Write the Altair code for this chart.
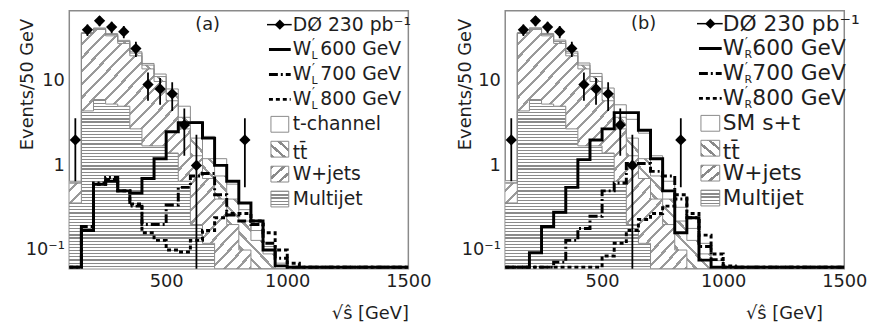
import altair as alt
import pandas as pd

# ---------------- data ----------------
YMIN, YMAX = 0.06, 67
XMIN, XMAX = 100, 1500

bg_edges = list(range(100, 1001, 50))      # lower bin edges, 50 GeV bins
sig_edges = list(range(100, 1451, 50))

# backgrounds (stack: multijet, W+jets, ttbar, single top)
multijet = [0.36, 4.4, 6.0, 5.3, 5.0, 2.7, 1.7, 1.7, 1.4, 0.65, 0.2, 0.12, 0, 0, 0, 0, 0, 0, 0]
wjets = [0.26, 31.8, 34.4, 28.6, 22.6, 17.0, 12.1, 8.1, 4.4, 2.05, 1.1, 0.58, 0.4, 0.2, 0.1, 0.06, 0.04, 0.03, 0]
ttbar = [0, 0.3, 0.8, 1.2, 1.5, 1.5, 1.5, 1.4, 1.2, 1.0, 0.8, 0.5, 0.35, 0.2, 0.12, 0.07, 0.05, 0.03, 0]
tchannel = [0.03, 0.5, 0.8, 0.9, 0.9, 0.8, 0.7, 0.8, 1.0, 1.3, 1.2, 1.0, 0.45, 0.2, 0.08, 0.04, 0.02, 0.01, 0]
sm_st = [0.04, 0.6, 1.0, 1.1, 1.1, 1.0, 0.9, 1.0, 1.2, 1.5, 1.4, 1.2, 0.55, 0.25, 0.1, 0.05, 0.03, 0.015, 0]

# W' signals, panel (a) left-handed, panel (b) right-handed
wl600 = [0, 0.17, 0.6, 0.65, 0.5, 0.47, 0.7, 1.2, 2.5, 3.2, 3.2, 2.1, 1.0, 0.65, 0.36, 0.22, 0.1, 0.065] + [0] * 10
wl700 = [0, 0.19, 0.62, 0.72, 0.5, 0.33, 0.2, 0.2, 0.34, 0.55, 0.75, 0.8, 0.45, 0.26, 0.22, 0.2, 0.12, 0.08] + [0] * 10
wl800 = [0, 0.17, 0.6, 0.68, 0.5, 0.35, 0.16, 0.13, 0.1, 0.095, 0.13, 0.17, 0.24, 0.27, 0.27, 0.22, 0.16, 0.1, 0.07] + [0] * 9
wr600 = [0, 0, 0.093, 0.19, 0.28, 0.55, 1.17, 2.0, 2.7, 4.2, 4.2, 2.6, 1.2, 0.5, 0.16, 0.24, 0.076] + [0] * 11
wr700 = [0, 0, 0, 0, 0.072, 0.13, 0.18, 0.25, 0.5, 0.62, 1.05, 1.05, 0.85, 0.75, 0.4, 0.24, 0.11, 0.077] + [0] * 10
wr800 = [0, 0, 0, 0, 0, 0, 0, 0, 0.085, 0.12, 0.17, 0.23, 0.27, 0.33, 0.45, 0.27, 0.15, 0.09, 0.065] + [0] * 9

# D0 data
data_x = [125, 175, 225, 275, 325, 375, 425, 475, 525, 575, 625, 825]
data_y = [2, 40, 51, 43, 38, 24, 9, 8, 7, 3, 1, 2]
data_lo = [0.65, 33.7, 43.9, 36.4, 31.8, 19.1, 5.8, 5.2, 4.4, 1.3, 0.01, 0.55]
data_hi = [3.6, 46.3, 58.1, 49.6, 44.2, 28.9, 12.5, 10.8, 9.6, 4.7, 2.3, 3.6]

legend_a = ["DØ 230 pb⁻¹", "600 GeV", "700 GeV", "800 GeV", "t-channel", "tt̄", "W+jets", "Multijet"]
legend_b = ["DØ 230 pb⁻¹", "600 GeV", "700 GeV", "800 GeV", "SM s+t", "tt̄", "W+jets", "Multijet"]

# ---------------- style ----------------
FONT = "DejaVu Sans"
FS = 18
TXT = "#1e1e1e"
HATCH = "#8a8a8a"
HATCH_LIGHT = "#9a9a9a"
W, H = 343, 261
SIG_FLOOR = 0.0625


def stripes(n, x1, y1, x2, y2, frac=0.38, color=HATCH, bg="white"):
    stops = []
    for i in range(n):
        a, b, c = i / n, (i + frac) / n, (i + 1) / n
        stops += [alt.GradientStop(offset=a, color=color),
                  alt.GradientStop(offset=b, color=color),
                  alt.GradientStop(offset=b, color=bg),
                  alt.GradientStop(offset=c, color=bg)]
    return alt.Gradient(gradient="linear", stops=stops, x1=x1, y1=y1, x2=x2, y2=y2)


FILL_MJ = stripes(54, 0, 0, 0, 1, frac=0.38)
FILL_WJ = stripes(36, 0, 0, 1, 1, frac=0.24, color=HATCH_LIGHT)
FILL_TT = stripes(34, 0, 1, 1, 0, frac=0.24, color=HATCH_LIGHT)
BOX_MJ = stripes(5, 0, 0, 0, 1, frac=0.4)
BOX_WJ = stripes(3, 0, 0, 1, 1, frac=0.3)
BOX_TT = stripes(3, 0, 1, 1, 0, frac=0.3)

xscale = alt.Scale(domain=[XMIN, XMAX], nice=False, zero=False)
yscale = alt.Scale(type="log", domain=[YMIN, YMAX], nice=False)


def xaxis(title_x):
    return alt.Axis(values=[500, 1000, 1500], format="d", title="√ŝ [GeV]",
                    titleX=title_x, titleY=45, titleAlign="right", titleBaseline="middle",
                    titleFont=FONT, titleFontSize=FS, titleFontWeight="normal", titleColor=TXT,
                    labelFont=FONT, labelFontSize=FS, labelColor=TXT, labelFlush=False,
                    labelPadding=4, ticks=False, domain=False, grid=False)


def yaxis(title_x):
    return alt.Axis(values=[0.1, 1, 10],
                    labelExpr="datum.value < 0.5 ? '10⁻¹' : (datum.value < 5 ? '1' : '10')",
                    title="Events/50 GeV", titleX=title_x, titleY=74, titleAngle=-90,
                    titleAlign="center", titleBaseline="middle",
                    titleFont=FONT, titleFontSize=FS, titleFontWeight="normal", titleColor=TXT,
                    labelFont=FONT, labelFontSize=FS, labelColor=TXT, labelFlush=False,
                    labelPadding=5, ticks=False, domain=False, grid=False)


def step_frame(edges, lo, hi):
    xs = list(edges) + [edges[-1] + 50]
    lo = list(lo) + [lo[-1]]
    hi = list(hi) + [hi[-1]]
    return pd.DataFrame({"x": xs, "lo": lo, "hi": hi})


def one():
    return alt.Chart(pd.DataFrame({"k": [0]}))


def panel(tag, comps, sigs, labels, sub, txt_x, sym0, sym1, row0, ytx, xtx, lfs, rest_dx):
    XA = xaxis(xtx)
    YA = yaxis(ytx)

    def X(f):
        return alt.X(f, scale=xscale, axis=XA, title="√ŝ [GeV]")

    def Y(f):
        return alt.Y(f, scale=yscale, axis=YA, title="Events/50 GeV")

    layers = []
    fills = [FILL_MJ, FILL_WJ, FILL_TT, "white"]
    cum = [0.0] * len(bg_edges)
    outlines = []
    for vals, fill in zip(comps, fills):
        lo = [max(c, YMIN) for c in cum]
        cum = [c + v for c, v in zip(cum, vals)]
        hi = [max(c, YMIN) for c in cum]
        df = step_frame(bg_edges, lo, hi)
        layers.append(alt.Chart(df).mark_area(interpolate="step-after", fill=fill,
                                              strokeWidth=0, clip=True).encode(
            x=X("x:Q"), y=Y("hi:Q"), y2="lo:Q"))
        outlines.append(alt.Chart(df).mark_line(interpolate="step-after", color=HATCH,
                                                strokeWidth=1, clip=True).encode(
            x=X("x:Q"), y=Y("hi:Q")))
    layers += outlines

    dashes = [[1, 0], [9, 3, 2, 3], [4, 3]]
    for vals, dash in zip(sigs, dashes):
        v = [max(s, SIG_FLOOR) for s in vals]
        df = step_frame(sig_edges, v, v)
        layers.append(alt.Chart(df).mark_line(interpolate="step-after", color="black",
                                              strokeWidth=3, strokeDash=dash, clip=True).encode(
            x=X("x:Q"), y=Y("hi:Q")))

    dd = pd.DataFrame({"x": data_x, "y": data_y, "lo": data_lo, "hi": data_hi})
    layers.append(alt.Chart(dd).mark_rule(color="black", strokeWidth=1.8, clip=True).encode(
        x=X("x:Q"), y=Y("lo:Q"), y2="hi:Q"))
    layers.append(alt.Chart(dd).mark_point(shape="diamond", filled=True, size=130,
                                           color="black", opacity=1).encode(
        x=X("x:Q"), y=Y("y:Q")))

    # panel tag
    layers.append(one().mark_text(text=tag, font=FONT, fontSize=FS, color=TXT,
                                  align="center", baseline="middle").encode(
        x=alt.value(140), y=alt.value(row0)))

    # legend
    step = 25.2
    xc = (sym0 + sym1) / 2
    k = lfs / 18.0

    def t(text, x, y, size):
        return one().mark_text(text=text, font=FONT, fontSize=size, color=TXT,
                               align="left", baseline="middle").encode(
            x=alt.value(x), y=alt.value(y))

    for i, lab in enumerate(labels):
        ry = row0 + i * step
        if i == 0:
            layers.append(one().mark_rule(color="black", strokeWidth=1.5).encode(
                x=alt.value(sym0 - 4), x2=alt.value(sym1 + 3), y=alt.value(ry)))
            layers.append(one().mark_point(shape="diamond", filled=True, size=110,
                                           color="black", opacity=1).encode(
                x=alt.value(xc), y=alt.value(ry)))
            layers.append(t(lab, txt_x, ry, lfs))
        elif i <= 3:
            layers.append(one().mark_rule(color="black", strokeWidth=3,
                                          strokeDash=dashes[i - 1]).encode(
                x=alt.value(sym0 - 2), x2=alt.value(sym1 + 2), y=alt.value(ry)))
            layers.append(t("W", txt_x, ry, lfs))
            layers.append(t("′", txt_x + 18.5 * k, ry - 7, 13))
            layers.append(t(sub, txt_x + 18 * k, ry + 7, 11))
            layers.append(t(lab, txt_x + rest_dx, ry, lfs))
        else:
            fill = {4: "white", 5: BOX_TT, 6: BOX_WJ, 7: BOX_MJ}[i]
            layers.append(one().mark_rect(fill=fill, stroke=HATCH, strokeWidth=1).encode(
                x=alt.value(sym0), x2=alt.value(sym1), y=alt.value(ry - 8),
                y2=alt.value(ry + 8)))
            layers.append(t(lab, txt_x, ry + (4 if i == 5 else 0), lfs))

    return alt.layer(*layers).properties(width=W, height=H)


pa = panel("(a)", [multijet, wjets, ttbar, tchannel], [wl600, wl700, wl800], legend_a, "L",
           txt_x=226, sym0=204, sym1=222, row0=14, ytx=-42, xtx=W, lfs=19, rest_dx=28)
pb = panel("(b)", [multijet, wjets, ttbar, sm_st], [wr600, wr700, wr800], legend_b, "R",
           txt_x=220, sym0=198, sym1=217, row0=13, ytx=-40, xtx=W - 22, lfs=22, rest_dx=30)

chart = alt.hconcat(pa, pb, spacing=24).properties(
    padding={"left": 10, "top": 0, "right": 0, "bottom": 0}
).configure_view(stroke="#8a8a8a", strokeWidth=1.5)

chart.save("out.html", embed_options={"renderer": "svg", "actions": False})
